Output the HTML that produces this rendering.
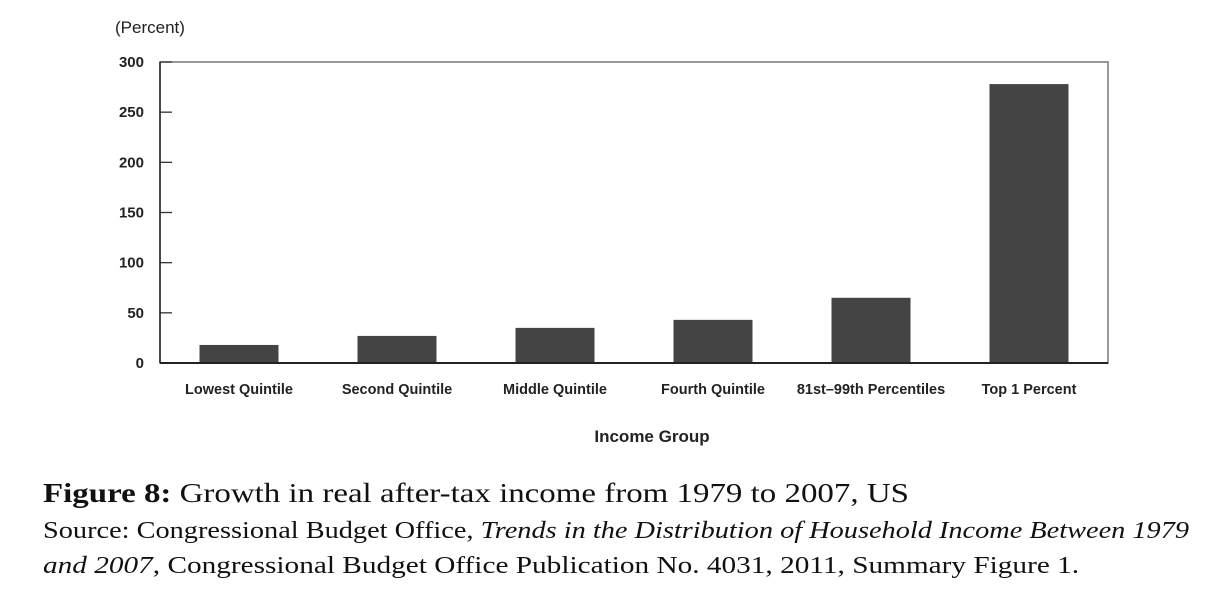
<!DOCTYPE html>
<html><head><meta charset="utf-8"><style>
html,body{margin:0;padding:0;background:#fff;width:1227px;height:602px;overflow:hidden}
svg{display:block}
.cap{position:absolute;left:43px;font-family:"Liberation Serif",serif;color:#111;white-space:nowrap;transform-origin:0 0}
</style></head><body>
<svg id="chart" width="1227" height="460" style="position:absolute;left:0;top:0;font-family:'Liberation Sans',sans-serif"></svg>
<div class="cap" style="top:478px;font-size:27px;transform:scaleX(1.22)"><b>Figure 8:</b> Growth in real after-tax income from 1979 to 2007, US</div>
<div class="cap" style="top:518px;font-size:24px;transform:scaleX(1.18)">Source: Congressional Budget Office, <i>Trends in the Distribution of Household Income Between 1979</i></div>
<div class="cap" style="top:553px;font-size:24px;transform:scaleX(1.22)"><i>and 2007</i>, Congressional Budget Office Publication No. 4031, 2011, Summary Figure 1.</div>
<script>
const categories=["Lowest Quintile","Second Quintile","Middle Quintile","Fourth Quintile","81st\u201399th Percentiles","Top 1 Percent"];
const values=[18,27,35,43,65,278];
const yTicks=[0,50,100,150,200,250,300];
const NS="http://www.w3.org/2000/svg";
const svg=document.getElementById('chart');
const L=160,R=1108,T=62,B=363,yMax=300;
const y=v=>B-(v/yMax)*(B-T);
const band=(R-L)/categories.length;
const x=i=>L+band*i+band/2;
function mk(tag,at,txt){const e=document.createElementNS(NS,tag);for(const k in at)e.setAttribute(k,at[k]);if(txt!==undefined)e.textContent=txt;svg.appendChild(e);return e;}
let f=mk('rect',{x:L,y:T,width:R-L,height:B-T,fill:'none',stroke:'#777','stroke-width':1.5});


yTicks.forEach(t=>{
 let l=mk('line',{x1:L,x2:L+12,y1:y(t),y2:y(t),stroke:'#333','stroke-width':1.3});
 
 
 let tx=mk('text',{x:144,y:y(t)+5,'text-anchor':'end','font-size':15,'font-weight':'bold',fill:'#222'},t);
 
 
});
values.forEach((v,i)=>{
 let r=mk('rect',{x:x(i)-band/4,y:y(v),width:band/2,height:B-y(v),fill:'#444'});
 
 
 let t=mk('text',{x:x(i),y:394,'text-anchor':'middle','font-size':14.5,'font-weight':'bold',fill:'#222'},categories[i]);
 
 
});
let ax=mk('line',{x1:L,x2:L,y1:T,y2:B,stroke:'#222','stroke-width':1.5});


let bx=mk('line',{x1:L,x2:R,y1:B,y2:B,stroke:'#222','stroke-width':2});


let yt=mk('text',{x:115,y:33,'font-size':17,fill:'#222'},'(Percent)');


let xt=mk('text',{x:652,y:442,'text-anchor':'middle','font-size':17,'font-weight':'bold',fill:'#222'},'Income Group');


</script>
</body></html>
